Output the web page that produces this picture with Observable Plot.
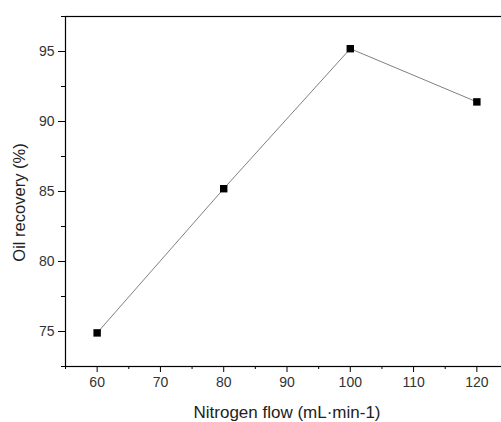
<!DOCTYPE html>
<html>
<head>
<meta charset="utf-8">
<script src="https://cdn.jsdelivr.net/npm/d3@7"></script>
<script src="https://cdn.jsdelivr.net/npm/@observablehq/plot@0.6"></script>
<style>
  html, body { margin: 0; padding: 0; background: #fff; }
</style>
</head>
<body>
<div id="chart"></div>
<script>
const nitrogenFlow = [60, 80, 100, 120];
const oilRecovery = [74.9, 85.2, 95.2, 91.4];
const xMajorTicks = [60, 70, 80, 90, 100, 110, 120];
const xMinorTicks = [55, 65, 75, 85, 95, 105, 115, 125];
const yMajorTicks = [75, 80, 85, 90, 95];
const yMinorTicks = [72.5, 77.5, 82.5, 87.5, 92.5, 97.5];
const xTitle = "Nitrogen flow (mL·min-1)";
const yTitle = "Oil recovery (%)";

const data = nitrogenFlow.map((x, i) => ({x, y: oilRecovery[i]}));

const plot = Plot.plot({
  width: 501,
  height: 422,
  marginLeft: 65,
  marginTop: 16,
  marginBottom: 56,
  marginRight: -7,
  style: {fontFamily: "'Liberation Sans', Arial, sans-serif", fontSize: "14px", background: "#fff", color: "#000"},
  x: {domain: [55, 125]},
  y: {domain: [72.5, 97.5]},
  marks: [
    Plot.frame({stroke: "#000", strokeWidth: 1.2}),
    Plot.axisX({ticks: xMajorTicks, tickSize: 6, tickPadding: 5, stroke: "#000", fill: "#333", fontSize: 14, label: null}),
    Plot.axisX({ticks: xMinorTicks, tickSize: 3, text: null, label: null, stroke: "#000"}),
    Plot.axisY({ticks: yMajorTicks, tickSize: 7, tickPadding: 4, stroke: "#000", fill: "#333", fontSize: 14, label: null}),
    Plot.axisY({ticks: yMinorTicks, tickSize: 4, text: null, label: null, stroke: "#000"}),
    Plot.text([xTitle], {text: d => d, frameAnchor: "bottom", dy: 46, lineAnchor: "middle", textAnchor: "middle", fontSize: 17, fill: "#222"}),
    Plot.text([yTitle], {text: d => d, frameAnchor: "left", dx: -46, dy: 11, rotate: -90, lineAnchor: "middle", textAnchor: "middle", fontSize: 16.5, fill: "#222"}),
    Plot.line(data, {x: "x", y: "y", stroke: "#808080", strokeWidth: 1}),
    Plot.dot(data, {x: "x", y: "y", symbol: "square", r: 4.2, fill: "#000", stroke: "none"})
  ]
});
document.getElementById("chart").appendChild(plot);
</script>
</body>
</html>
